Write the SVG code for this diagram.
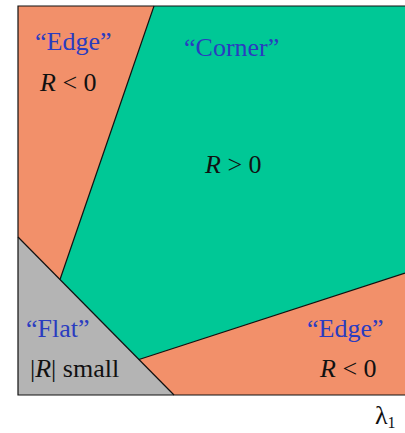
<svg xmlns="http://www.w3.org/2000/svg" width="405" height="433" viewBox="0 0 405 433">
<style>
.t{font-family:"Liberation Serif","Times New Roman",serif;font-size:26px}
.b{fill:#2a3cc0}
.k{fill:#111}
.i{font-style:italic}
.edge{stroke:#111;stroke-width:1.2;fill:none}
</style>
<rect width="405" height="433" fill="#fff"/>
<g id="edge-region">
<rect x="18" y="6" width="387" height="389" fill="#f2906a"/>
</g>
<g id="corner-region">
<polygon points="154,6 405,6 405,273 139,359.5 130,362 50,274 60,279.5" fill="#00c896"/>
</g>
<g id="flat-region">
<polygon points="18,237 174,395 18,395" fill="#b4b4b4"/>
</g>
<g id="connectors">
<line class="edge" x1="154" y1="6" x2="60" y2="279.5"/>
<line class="edge" x1="18" y1="237" x2="174" y2="395"/>
<line class="edge" x1="139" y1="359.5" x2="405" y2="273"/>
<polyline class="edge" points="405,6 18,6 18,395 405,395" stroke-width="1.5"/>
</g>
<g id="labels">
<text class="t b" x="35" y="50">“Edge”</text>
<text class="t k" x="40" y="91"><tspan class="i">R</tspan> &lt; 0</text>
<text class="t b" x="184" y="56">“Corner”</text>
<text class="t k" x="205" y="173"><tspan class="i">R</tspan> &gt; 0</text>
<text class="t b" x="26" y="337">“Flat”</text>
<text class="t k" x="30" y="377">|<tspan class="i">R</tspan>| small</text>
<text class="t b" x="307" y="337">“Edge”</text>
<text class="t k" x="320" y="377"><tspan class="i">R</tspan> &lt; 0</text>
<text class="t k" x="375" y="424" font-size="24">λ<tspan font-size="16" dy="4">1</tspan></text>
</g>
</svg>
